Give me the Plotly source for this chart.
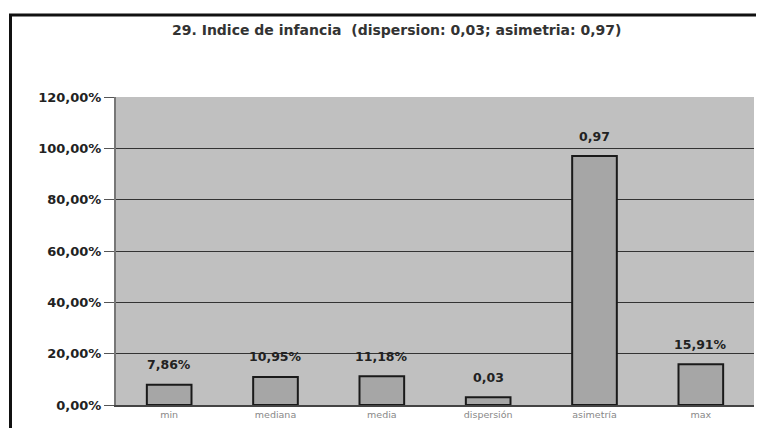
import plotly.graph_objects as go

categories = ["min", "mediana", "media", "dispersión", "asimetría", "max"]
values = [0.0786, 0.1095, 0.1118, 0.03, 0.97, 0.1591]
value_labels = ["7,86%", "10,95%", "11,18%", "0,03", "0,97", "15,91%"]
tick_vals = [0, 0.2, 0.4, 0.6, 0.8, 1.0, 1.2]
tick_text = ["0,00%", "20,00%", "40,00%", "60,00%", "80,00%", "100,00%", "120,00%"]
title = "29. Indice de infancia  (dispersion: 0,03; asimetria: 0,97)"

FONT = "DejaVu Sans, Verdana, sans-serif"

fig = go.Figure()
fig.add_trace(go.Bar(
    x=categories, y=values, width=0.42,
    marker=dict(color="#a6a6a6", line=dict(color="#1a1a1a", width=2)),
    hoverinfo="skip",
))

for c, v, t in zip(categories, values, value_labels):
    fig.add_annotation(x=c, y=v, text="<b>" + t + "</b>", showarrow=False, yanchor="middle",
                       yshift=20, font=dict(family=FONT, size=12.5, color="#222"))

fig.add_annotation(xref="paper", yref="paper", x=(396 - 116) / 638, y=1 + (97 - 30) / 308,
                   text="<b>" + title + "</b>", showarrow=False, xanchor="center", yanchor="middle",
                   font=dict(family=FONT, size=14, color="#333"))

def px_x(p):
    return (p - 116) / 638

def px_y(p):
    return 1 + (97 - p) / 308

# outer frame: thick top and left
fig.add_shape(type="line", xref="paper", yref="paper",
              x0=px_x(9), x1=px_x(780), y0=px_y(15), y1=px_y(15),
              line=dict(color="#111", width=3))
fig.add_shape(type="line", xref="paper", yref="paper",
              x0=px_x(10.5), x1=px_x(10.5), y0=px_y(14), y1=px_y(470),
              line=dict(color="#111", width=3))

fig.update_layout(
    width=748, height=420,
    margin=dict(l=108, r=2, t=89, b=23),
    paper_bgcolor="white", plot_bgcolor="#c0c0c0",
    showlegend=False, bargap=0.58,
    xaxis=dict(showgrid=False, showline=True, linecolor="#444", linewidth=1.5,
               ticks="", tickfont=dict(family=FONT, size=9.5, color="#888")),
    yaxis=dict(range=[0, 1.2], tickvals=tick_vals, ticktext=["<b>" + t + "</b>" for t in tick_text],
               showgrid=True, gridcolor="#333", gridwidth=1.3,
               showline=True, linecolor="#777", linewidth=2,
               ticks="outside", ticklen=10, tickcolor="#555",
               tickfont=dict(family=FONT, size=13, color="#222"),
               zeroline=False),
)

fig.write_html("out.html")
